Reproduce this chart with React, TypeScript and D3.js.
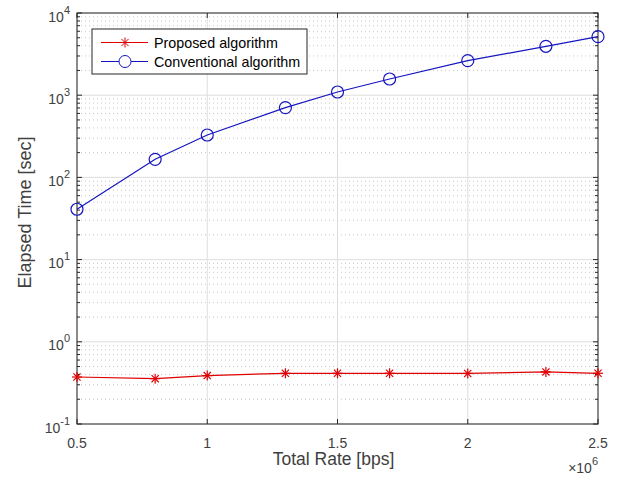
import { useEffect, useRef } from "react";
import * as d3 from "d3";

// x values in bps
const rates = [0.5e6, 0.8e6, 1.0e6, 1.3e6, 1.5e6, 1.7e6, 2.0e6, 2.3e6, 2.5e6];
const proposed = [0.373, 0.356, 0.388, 0.414, 0.414, 0.414, 0.412, 0.43, 0.414];
const conventional = [41, 166, 328, 705, 1094, 1574, 2630, 3935, 5150];
const xTicks = [0.5e6, 1e6, 1.5e6, 2e6, 2.5e6];
const xTickLabels = ["0.5", "1", "1.5", "2", "2.5"];
const yExponents = [-1, 0, 1, 2, 3, 4];
const seriesNames = ["Proposed algorithm", "Conventional algorithm"];

export default function App() {
  const ref = useRef<SVGSVGElement>(null);

  useEffect(() => {
    if (!ref.current) return;
    const svg = d3.select(ref.current);
    svg.selectAll("*").remove();

    const W = 621;
    const H = 478;
    const m = { left: 77, right: 23, top: 13, bottom: 54 };
    const font = "'Liberation Sans', Arial, sans-serif";
    const axisColor = "#262626";
    const textColor = "#404040";

    const x = d3.scaleLinear().domain([0.5e6, 2.5e6]).range([m.left, W - m.right]);
    const y = d3.scaleLog().domain([0.1, 1e4]).range([H - m.bottom, m.top]);
    const [x0, x1] = x.range();
    const [y0, y1] = y.range();

    svg.append("rect").attr("width", W).attr("height", H).attr("fill", "#fff");

    // minor grid (dotted)
    const minor: number[] = [];
    yExponents.slice(0, -1).forEach((e) => {
      for (let k = 2; k <= 9; k++) minor.push(k * Math.pow(10, e));
    });
    const grid = svg.append("g");
    grid
      .selectAll("line.minor")
      .data(minor)
      .enter()
      .append("line")
      .attr("x1", x0)
      .attr("x2", x1)
      .attr("y1", (d) => y(d))
      .attr("y2", (d) => y(d))
      .attr("stroke", "#c8c8c8")
      .attr("stroke-width", 1)
      .attr("stroke-dasharray", "1,3");

    // major grid
    grid
      .selectAll("line.hmaj")
      .data(yExponents.map((e) => Math.pow(10, e)))
      .enter()
      .append("line")
      .attr("x1", x0)
      .attr("x2", x1)
      .attr("y1", (d) => y(d))
      .attr("y2", (d) => y(d))
      .attr("stroke", "#dedede");
    grid
      .selectAll("line.vmaj")
      .data(xTicks)
      .enter()
      .append("line")
      .attr("x1", (d) => x(d))
      .attr("x2", (d) => x(d))
      .attr("y1", y0)
      .attr("y2", y1)
      .attr("stroke", "#dedede");

    // ticks
    const ticks = svg.append("g").attr("stroke", axisColor);
    xTicks.forEach((t) => {
      ticks.append("line").attr("x1", x(t)).attr("x2", x(t)).attr("y1", y0).attr("y2", y0 - 5);
      ticks.append("line").attr("x1", x(t)).attr("x2", x(t)).attr("y1", y1).attr("y2", y1 + 5);
    });
    yExponents.forEach((e) => {
      const v = Math.pow(10, e);
      ticks.append("line").attr("x1", x0).attr("x2", x0 + 5).attr("y1", y(v)).attr("y2", y(v));
      ticks.append("line").attr("x1", x1).attr("x2", x1 - 5).attr("y1", y(v)).attr("y2", y(v));
    });
    minor.forEach((v) => {
      ticks.append("line").attr("x1", x0).attr("x2", x0 + 3).attr("y1", y(v)).attr("y2", y(v));
      ticks.append("line").attr("x1", x1).attr("x2", x1 - 3).attr("y1", y(v)).attr("y2", y(v));
    });

    // box
    svg
      .append("rect")
      .attr("x", x0)
      .attr("y", y1)
      .attr("width", x1 - x0)
      .attr("height", y0 - y1)
      .attr("fill", "none")
      .attr("stroke", axisColor)
      .attr("stroke-width", 1);

    // tick labels
    const labels = svg.append("g").attr("font-family", font).attr("fill", textColor);
    xTicks.forEach((t, i) => {
      labels
        .append("text")
        .attr("x", x(t))
        .attr("y", y0 + 23.5)
        .attr("text-anchor", "middle")
        .attr("font-size", 14)
        .text(xTickLabels[i]);
    });
    yExponents.forEach((e) => {
      const tx = labels
        .append("text")
        .attr("x", x0 - 7)
        .attr("y", y(Math.pow(10, e)) + 8.5)
        .attr("text-anchor", "end")
        .attr("font-size", 14);
      tx.append("tspan").text("10");
      tx.append("tspan").attr("dy", -8).attr("font-size", 11).text(String(e));
    });

    // axis labels
    labels
      .append("text")
      .attr("x", 333.5)
      .attr("y", 465)
      .attr("text-anchor", "middle")
      .attr("font-size", 17.5)
      .text("Total Rate [bps]");
    labels
      .append("text")
      .attr("transform", `translate(31,212.5) rotate(-90)`)
      .attr("text-anchor", "middle")
      .attr("font-size", 18)
      .text("Elapsed Time [sec]");
    const mult = labels
      .append("text")
      .attr("x", x1)
      .attr("y", 473)
      .attr("text-anchor", "end")
      .attr("font-size", 14);
    mult.append("tspan").text("\u00d710");
    mult.append("tspan").attr("dy", -8).attr("font-size", 11).text("6");

    // series
    const line = d3
      .line<number>()
      .x((_, i) => x(rates[i]))
      .y((d) => y(d));

    const red = "#e00000";
    const blue = "#1515c0";

    svg
      .append("path")
      .attr("d", line(conventional))
      .attr("fill", "none")
      .attr("stroke", blue)
      .attr("stroke-width", 1.2);
    svg
      .append("g")
      .selectAll("circle")
      .data(conventional)
      .enter()
      .append("circle")
      .attr("cx", (_, i) => x(rates[i]))
      .attr("cy", (d) => y(d))
      .attr("r", 6)
      .attr("fill", "none")
      .attr("stroke", blue)
      .attr("stroke-width", 1.2);

    svg
      .append("path")
      .attr("d", line(proposed))
      .attr("fill", "none")
      .attr("stroke", red)
      .attr("stroke-width", 1.2);

    const star = (g: d3.Selection<SVGGElement, unknown, null, undefined>, cx: number, cy: number) => {
      const r = 5;
      g.append("line").attr("x1", cx - r).attr("x2", cx + r).attr("y1", cy).attr("y2", cy);
      g.append("line").attr("x1", cx).attr("x2", cx).attr("y1", cy - r).attr("y2", cy + r);
      const d = r * 0.72;
      g.append("line").attr("x1", cx - d).attr("x2", cx + d).attr("y1", cy - d).attr("y2", cy + d);
      g.append("line").attr("x1", cx - d).attr("x2", cx + d).attr("y1", cy + d).attr("y2", cy - d);
    };
    const stars = svg.append("g").attr("stroke", red).attr("stroke-width", 1.2);
    proposed.forEach((v, i) => star(stars, x(rates[i]), y(v)));

    // legend
    const lg = svg.append("g").attr("transform", "translate(92,29)");
    lg.append("rect")
      .attr("width", 215)
      .attr("height", 45)
      .attr("fill", "#fff")
      .attr("stroke", axisColor);
    const rows = [13.5, 32.5];
    lg.append("line").attr("x1", 9).attr("x2", 56).attr("y1", rows[0]).attr("y2", rows[0]).attr("stroke", red);
    const lstar = lg.append("g").attr("stroke", red);
    star(lstar, 33, rows[0]);
    lg.append("line").attr("x1", 9).attr("x2", 56).attr("y1", rows[1]).attr("y2", rows[1]).attr("stroke", blue);
    lg.append("circle").attr("cx", 33).attr("cy", rows[1]).attr("r", 6).attr("fill", "#fff").attr("stroke", blue);
    seriesNames.forEach((n, i) => {
      lg.append("text")
        .attr("x", 62)
        .attr("y", rows[i] + 5)
        .attr("font-family", font)
        .attr("font-size", 14.3)
        .attr("fill", "#000")
        .text(n);
    });
  }, []);

  return (
    <svg
      ref={ref}
      width={621}
      height={478}
      style={{ position: "absolute", left: 0, top: 0 }}
    />
  );
}
